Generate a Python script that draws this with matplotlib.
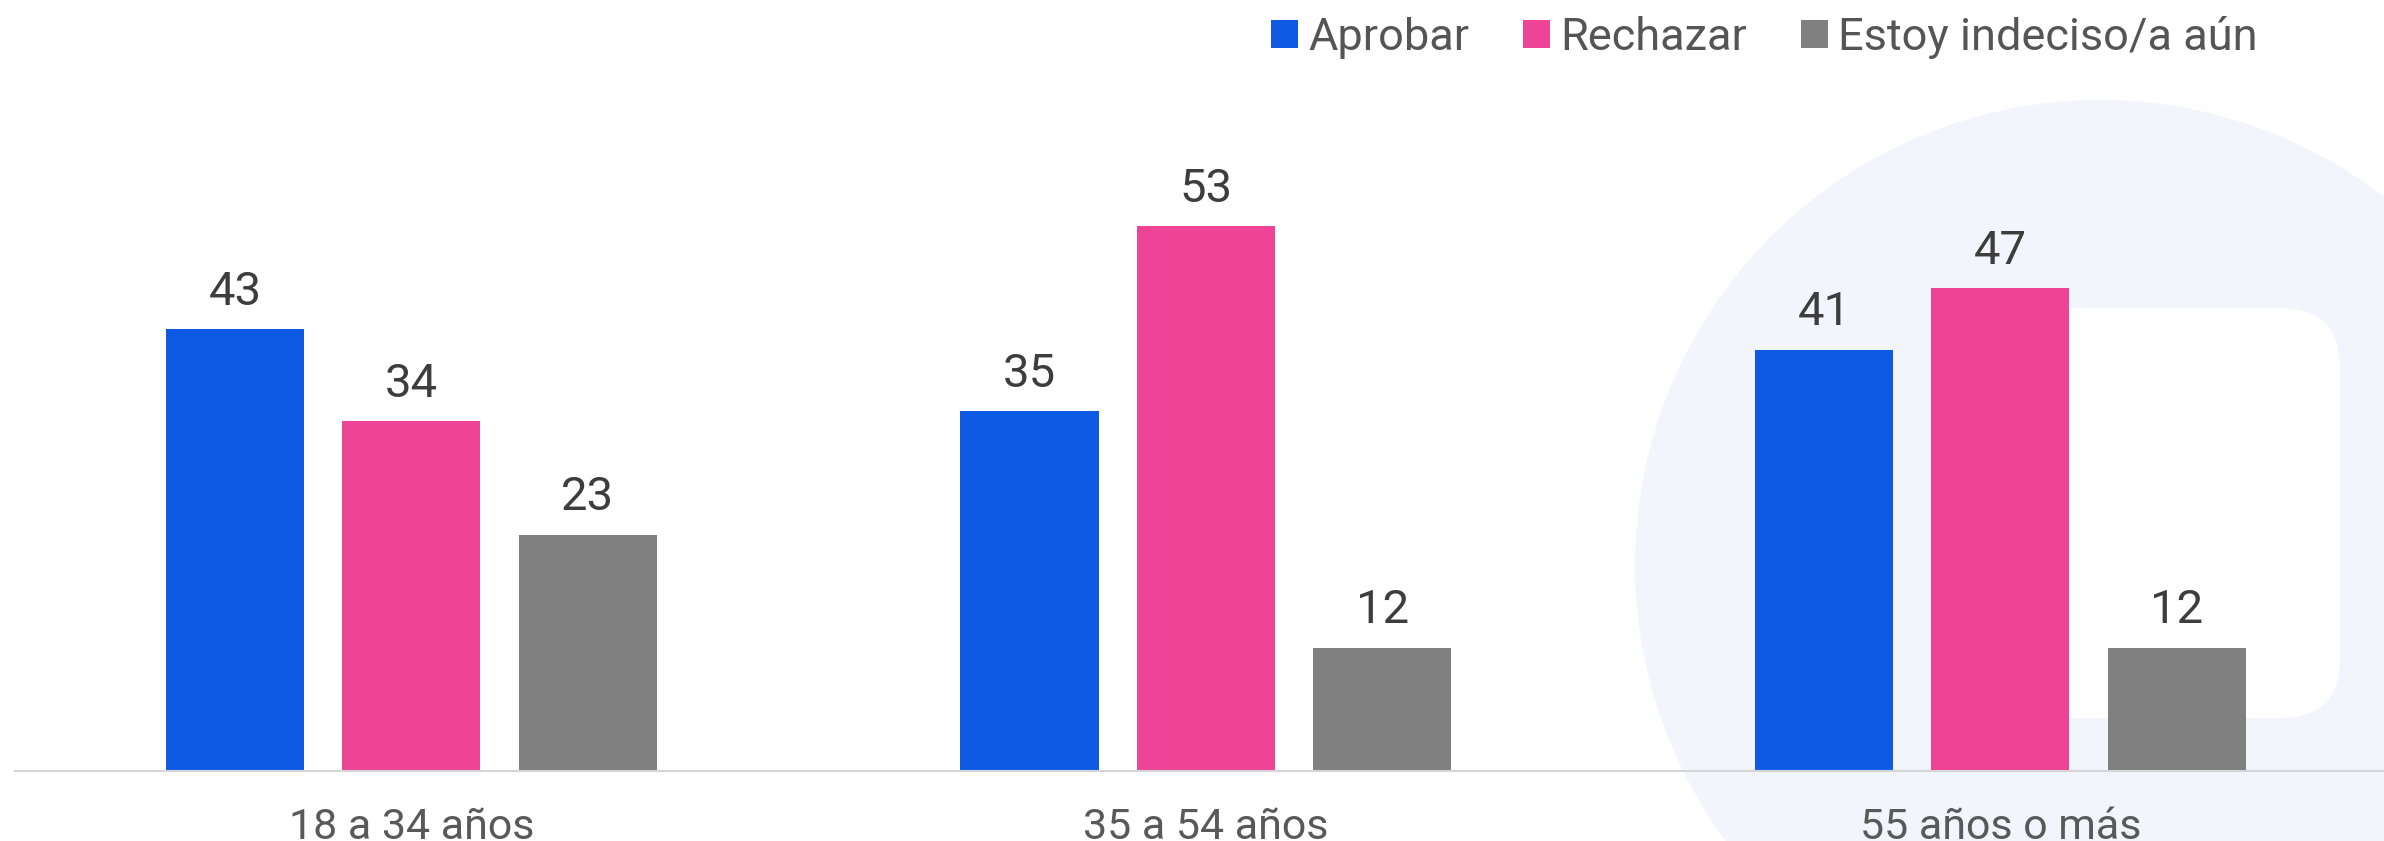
import matplotlib.pyplot as plt
import numpy as np
from matplotlib.patches import Circle, FancyBboxPatch

categories = ['18 a 34 años', '35 a 54 años', '55 años o más']
series = ['Aprobar', 'Rechazar', 'Estoy indeciso/a aún']
aprobar = [43, 35, 41]
rechazar = [34, 53, 47]
indeciso = [23, 12, 12]
colors = ['#0F5AE5', '#EE4498', '#808080']

plt.rcParams['font.family'] = ['Roboto', 'DejaVu Sans']

W, H = 2384, 841
fig = plt.figure(figsize=(W / 100, H / 100), dpi=100)

# faint logo watermark behind the chart, in pixel coords
bg = fig.add_axes([0, 0, 1, 1], zorder=0)
bg.set_xlim(0, W)
bg.set_ylim(H, 0)
bg.axis('off')
bg.add_patch(Circle((2100, 565), 465, color='#F3F5FC', lw=0))
bg.add_patch(FancyBboxPatch((1995, 368), 285, 290,
                            boxstyle='round,pad=60,rounding_size=60',
                            color='white', lw=0))

ax = fig.add_axes([15 / W, 70 / H, (W - 15) / W, 771 / H], zorder=1)
ax.patch.set_alpha(0)

x = np.arange(len(categories))
step = 0.222
width = 0.174
for i, (name, vals) in enumerate(zip(series, [aprobar, rechazar, indeciso])):
    bars = ax.bar(x + (i - 1) * step, vals, width, color=colors[i], label=name)
    ax.bar_label(bars, padding=11, fontsize=34, color='#3D3D3D')

ax.set_xlim(-0.4988, 2.483)
ax.set_ylim(0, 75)
ax.set_xticks(x, categories)
ax.tick_params(axis='x', length=0, pad=26, labelsize=31, labelcolor='#595959')
ax.set_yticks([])
for side in ['top', 'right', 'left']:
    ax.spines[side].set_visible(False)
ax.spines['bottom'].set_color('#D5D5D8')
ax.spines['bottom'].set_linewidth(1.5)

fig.legend(loc='upper right', bbox_to_anchor=(2276 / W, 1 + 2 / H), ncol=3,
           frameon=False, fontsize=32.5, labelcolor='#555555',
           handlelength=0.6, handleheight=0.6, handletextpad=0.22,
           columnspacing=1.2, borderaxespad=0)

fig.savefig('out.png', dpi=100)
